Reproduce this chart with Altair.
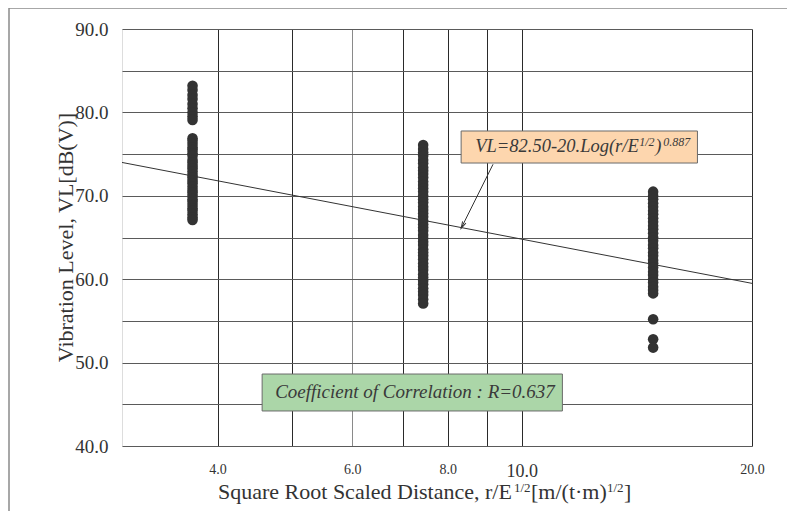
import altair as alt
import pandas as pd

# ---- data ----
col1_x = 3.71
col1_y = [83.2, 82.7, 82.1, 81.6, 81.0, 80.5, 80.0, 79.5, 79.1,
          76.9, 76.6, 76.2, 75.8, 75.5, 75.1, 74.8, 74.3, 74.0, 73.6, 73.3,
          72.9, 72.5, 72.2, 71.8, 71.5, 71.1, 70.7, 70.4, 70.0, 69.6, 69.3,
          68.9, 68.5, 68.2, 67.8, 67.4, 67.1]
col2_x = 7.43
col2_y = [76.1, 75.6, 75.2, 74.8, 74.3, 73.9, 73.4, 73.0, 72.6, 72.2,
          71.7, 71.3, 70.9, 70.5, 70.0, 69.6, 69.2, 68.7, 68.3, 67.9,
          67.5, 67.0, 66.6, 66.2, 65.8, 65.3, 64.9, 64.5, 64.1, 63.6,
          63.2, 62.8, 62.4, 61.9, 61.5, 61.1, 60.6, 60.2, 59.8, 59.4,
          58.9, 58.5, 58.1, 57.6, 57.1]
col3_x = 14.85
col3_y = [70.5, 70.0, 69.6, 69.1, 68.7, 68.2, 67.8, 67.3, 66.9, 66.4,
          66.0, 65.5, 65.0, 64.6, 64.1, 63.7, 63.2, 62.8, 62.3, 61.9,
          61.4, 60.9, 60.5, 60.0, 59.6, 59.1, 58.7, 58.3, 55.2, 52.8, 51.8]

reg_x = [3.0, 20.0]
reg_y = [74.0, 59.5]

x_ticks = [4, 5, 6, 7, 8, 9, 10, 20]
x_labels = [4, 6, 8, 10, 20]
y_ticks = [40, 45, 50, 55, 60, 65, 70, 75, 80, 85, 90]

x_title_parts = ["Square Root Scaled Distance, r/E", "1/2", "[m/(t·m)", "1/2", "]"]
y_title = "Vibration Level, VL[dB(V)]"
eq_parts_text = ["VL=82.50-20.Log(r/E", "1/2", ")", "0.887"]
cc_label = "Coefficient of Correlation : R=0.637"

eq_box = dict(x=8.33, x2=16.97, y=73.93, y2=77.77)
cc_box = dict(x=4.575, x2=11.30, y=44.2, y2=48.63)
eq_anchor = (8.69, 75.25)
cc_anchor = (7.25, 45.76)
arrow_x = [9.17, 8.33]
arrow_y = [73.78, 66.10]

FONT = "Liberation Serif, Times New Roman, serif"
INK = "#333333"

pts = pd.DataFrame({
    "x": [col1_x] * len(col1_y) + [col2_x] * len(col2_y) + [col3_x] * len(col3_y),
    "y": col1_y + col2_y + col3_y,
})
reg = pd.DataFrame({"x": reg_x, "y": reg_y})

xscale = alt.Scale(type="log", domain=[3, 20], nice=False)
yscale = alt.Scale(domain=[40, 90], nice=False, zero=False)

xaxis = alt.Axis(
    values=x_ticks,
    labelExpr="indexof(" + str(x_labels) + ", datum.value) >= 0 ? format(datum.value, '.1f') : ''",
    labelFont=FONT, labelColor=INK,
    labelFontSize={"condition": {"test": "datum.value == 10", "value": 18}, "value": 14},
    labelPadding=16, labelFlush=False, labelOverlap=False, labelBound=False,
    ticks=False, tickSize=0, domain=False,
    grid=True,
    gridColor={"condition": {"test": "datum.value == 6", "value": "#8a8a8a"}, "value": "#2a2a2a"},
    gridWidth=1, gridOpacity=1,
    title="",
)
yaxis = alt.Axis(
    values=y_ticks,
    labelExpr="datum.value % 10 == 0 ? format(datum.value, '.1f') : ''",
    labelFont=FONT, labelFontSize=19, labelColor=INK, labelPadding=14,
    labelFlush=False, labelOverlap=False, labelBound=False,
    ticks=False, tickSize=0, domain=False,
    grid=True, gridColor="#5a5a5a", gridWidth=1, gridOpacity=1,
    title=y_title,
    titleFont=FONT, titleFontSize=22, titleFontWeight="normal", titleColor=INK,
    titleX=-50, titleY=208, titleAngle=-90, titleAlign="center",
    titleBaseline="alphabetic", titleAnchor="start",
)

base_x = alt.X("x:Q", scale=xscale, axis=xaxis)
base_y = alt.Y("y:Q", scale=yscale, axis=yaxis)

line = alt.Chart(reg).mark_line(color=INK, strokeWidth=1).encode(x=base_x, y=base_y)

points = alt.Chart(pts).mark_circle(size=112, color=INK, opacity=1).encode(
    x=alt.X("x:Q", scale=xscale), y=alt.Y("y:Q", scale=yscale))

box_df = pd.DataFrame([dict(**eq_box, fill="#FDD6AE"), dict(**cc_box, fill="#ABD6A8")])
boxes = alt.Chart(box_df).mark_rect(stroke="#6a6a6a", strokeWidth=1).encode(
    x=alt.X("x:Q", scale=xscale), x2="x2:Q",
    y=alt.Y("y:Q", scale=yscale), y2="y2:Q",
    fill=alt.Fill("fill:N", scale=None),
)

arrow_df = pd.DataFrame({"x": [arrow_x[0]], "y": [arrow_y[0]], "x2": [arrow_x[1]], "y2": [arrow_y[1]]})
arrow = alt.Chart(arrow_df).mark_rule(color=INK, strokeWidth=1).encode(
    x=alt.X("x:Q", scale=xscale), y=alt.Y("y:Q", scale=yscale), x2="x2:Q", y2="y2:Q")
head_df = pd.DataFrame({"x": [arrow_x[1]], "y": [arrow_y[1]]})
head = alt.Chart(head_df).mark_point(
    shape="M-0.35,1.3L0,0L0.35,1.3", filled=False, stroke=INK, strokeWidth=1,
    size=110, angle=207, opacity=1,
).encode(x=alt.X("x:Q", scale=xscale), y=alt.Y("y:Q", scale=yscale))

# equation label, built from normal and superscript pieces
eq_style = [(0, 0, 18.5), (164, -6, 12), (180, 0, 18.5), (188, -6, 12)]
eq_layers = []
for txt, (dx, dy, fs) in zip(eq_parts_text, eq_style):
    eq_layers.append(
        alt.Chart(pd.DataFrame({"x": [eq_anchor[0]], "y": [eq_anchor[1]], "t": [txt]}))
        .mark_text(font=FONT, fontStyle="italic", fontSize=fs, color="#3a3a3a",
                   align="left", baseline="alphabetic", dx=dx, dy=dy)
        .encode(x=alt.X("x:Q", scale=xscale), y=alt.Y("y:Q", scale=yscale), text="t:N")
    )

cc_text = alt.Chart(pd.DataFrame({"x": [cc_anchor[0]], "y": [cc_anchor[1]],
                                  "t": [cc_label]})).mark_text(
    font=FONT, fontStyle="italic", fontSize=19, color="#3a3a3a",
    align="center", baseline="alphabetic",
).encode(x=alt.X("x:Q", scale=xscale), y=alt.Y("y:Q", scale=yscale), text="t:N")

# x-axis title with superscripts (positions relative to the plot area)
xt_style = [(96, 470, 22), (392, 463, 13), (409, 470, 22), (485, 463, 13), (502, 470, 22)]
xt_layers = []
for txt, (px, py, fs) in zip(x_title_parts, xt_style):
    xt_layers.append(
        alt.Chart(pd.DataFrame({"t": [txt]}))
        .mark_text(font=FONT, fontSize=fs, color=INK, align="left", baseline="alphabetic")
        .encode(x=alt.value(px), y=alt.value(py), text="t:N")
    )

frame_v = alt.Chart(pd.DataFrame({"a": [0]})).mark_rule(color="#8a8a8a", strokeWidth=1.5).encode(
    x=alt.value(-113), y=alt.value(-21), y2=alt.value(520))
frame_h = alt.Chart(pd.DataFrame({"a": [0]})).mark_rule(color="#8a8a8a", strokeWidth=1.5).encode(
    x=alt.value(-113), x2=alt.value(700), y=alt.value(-21))

chart = alt.layer(
    line, boxes, *eq_layers, cc_text, points, arrow, head, *xt_layers, frame_v, frame_h
).properties(
    width=630, height=417,
    autosize=alt.AutoSizeParams(type="none"),
    padding={"left": 114, "top": 21, "right": 35, "bottom": 65},
).configure_view(
    fill="#EBEBEB", stroke="#333333", strokeWidth=2.5,
).configure(background="white")

chart.save("out.html", embed_options={"renderer": "svg", "actions": False})
